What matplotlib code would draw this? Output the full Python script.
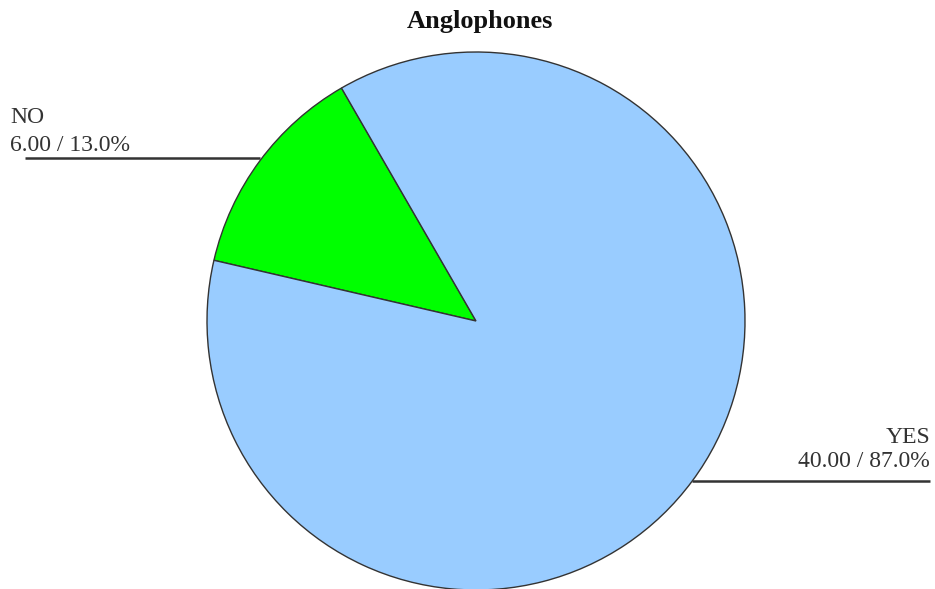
import numpy as np
import matplotlib
matplotlib.use("Agg")
import matplotlib.pyplot as plt

title = "Anglophones"
labels = ["NO", "YES"]
values = [6.00, 40.00]
colors = ["#00ff00", "#99ccff"]

W, H = 935, 589
fig = plt.figure(figsize=(W / 100, H / 100), dpi=100)
ax = fig.add_axes([0, 0, 1, 1])

cx, cy, r = 476, H - 321, 269
wedges, _ = ax.pie(values, colors=colors, startangle=120, counterclock=True,
                   center=(cx, cy), radius=r, frame=True,
                   wedgeprops=dict(edgecolor="#333333", linewidth=1.0))
ax.set_xlim(0, W)
ax.set_ylim(0, H)
ax.axis("off")

total = sum(values)
font = ["Liberation Serif", "DejaVu Serif"]
txt_color = "#333333"
for w, lab, v in zip(wedges, labels, values):
    mid = np.deg2rad((w.theta1 + w.theta2) / 2)
    px, py = cx + r * np.cos(mid), cy + r * np.sin(mid)
    if px < cx:
        py += 3
        x_end, ha, tx, o1, o2 = 25, "left", 10, 7, 35
    else:
        x_end, ha, tx, o1, o2 = 930, "right", 930, 14, 38
    ax.plot([px, x_end], [py, py], color="#333333", lw=1.8, solid_capstyle="butt")
    ax.text(tx, py + o1, f"{v:.2f} / {v / total * 100:.1f}%", ha=ha, va="baseline",
            fontsize=17, family=font, color=txt_color)
    ax.text(tx, py + o2, lab, ha=ha, va="baseline",
            fontsize=17, family=font, color=txt_color)

ax.text(W / 2 + 12, H - 28, title, ha="center", va="baseline", fontsize=19,
        fontweight="bold", family=font, color="#111111")

fig.savefig("out.png", dpi=100)
